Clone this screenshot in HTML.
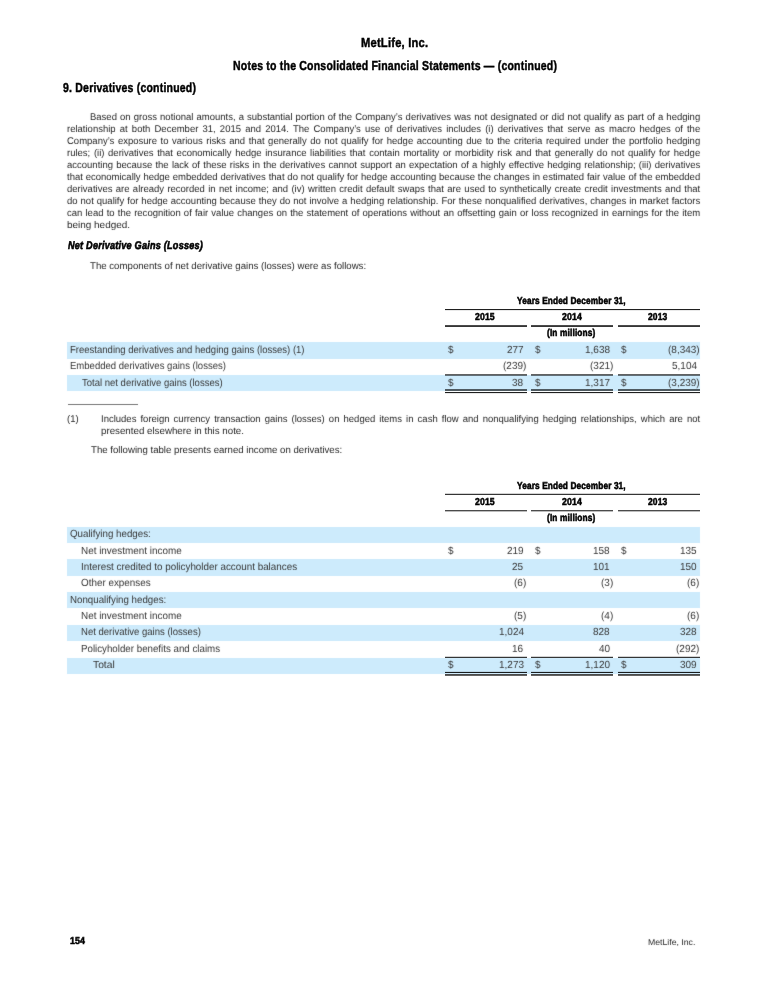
<!DOCTYPE html>
<html><head><meta charset="utf-8"><style>
html,body{margin:0;padding:0;background:#fff;}
body{width:768px;height:993px;position:relative;overflow:hidden;font-family:"Liberation Sans",sans-serif;color:#262626;}
#pg{position:absolute;left:0;top:0;width:768px;height:993px;will-change:transform;filter:url(#soft);}
#hd{position:absolute;left:0;top:0;width:768px;height:993px;will-change:transform;}
.t,.j,.r{position:absolute;}
.t,.j{text-rendering:geometricPrecision;}
.t{white-space:nowrap;transform-origin:0 0;}
.j{text-align:justify;text-align-last:justify;white-space:normal;transform-origin:0 0;}
</style></head><body>
<svg width="0" height="0" style="position:absolute"><filter id="soft" x="0" y="0" width="100%" height="100%" color-interpolation-filters="sRGB"><feConvolveMatrix order="3" kernelMatrix="0.01 0.06 0.01 0.06 0.72 0.06 0.01 0.06 0.01" divisor="1" edgeMode="duplicate"/></filter></svg>
<div id="pg">
<div class="j" style="left:90.40px;top:113.004px;width:629.07px;font-size:9.8px;line-height:9.8px;transform:scaleX(0.9700);">Based on gross notional amounts, a substantial portion of the Company’s derivatives was not designated or did not qualify as part of a hedging</div>
<div class="j" style="left:67.40px;top:125.004px;width:652.78px;font-size:9.8px;line-height:9.8px;transform:scaleX(0.9700);">relationship at both December 31, 2015 and 2014. The Company’s use of derivatives includes (i) derivatives that serve as macro hedges of the</div>
<div class="j" style="left:67.40px;top:137.004px;width:652.78px;font-size:9.8px;line-height:9.8px;transform:scaleX(0.9700);">Company’s exposure to various risks and that generally do not qualify for hedge accounting due to the criteria required under the portfolio hedging</div>
<div class="j" style="left:67.40px;top:149.004px;width:652.78px;font-size:9.8px;line-height:9.8px;transform:scaleX(0.9700);">rules; (ii) derivatives that economically hedge insurance liabilities that contain mortality or morbidity risk and that generally do not qualify for hedge</div>
<div class="j" style="left:67.40px;top:161.004px;width:652.78px;font-size:9.8px;line-height:9.8px;transform:scaleX(0.9700);">accounting because the lack of these risks in the derivatives cannot support an expectation of a highly effective hedging relationship; (iii) derivatives</div>
<div class="j" style="left:67.40px;top:173.004px;width:652.78px;font-size:9.8px;line-height:9.8px;transform:scaleX(0.9700);">that economically hedge embedded derivatives that do not qualify for hedge accounting because the changes in estimated fair value of the embedded</div>
<div class="j" style="left:67.40px;top:185.004px;width:652.78px;font-size:9.8px;line-height:9.8px;transform:scaleX(0.9700);">derivatives are already recorded in net income; and (iv) written credit default swaps that are used to synthetically create credit investments and that</div>
<div class="j" style="left:67.40px;top:197.004px;width:652.78px;font-size:9.8px;line-height:9.8px;transform:scaleX(0.9700);">do not qualify for hedge accounting because they do not involve a hedging relationship. For these nonqualified derivatives, changes in market factors</div>
<div class="j" style="left:67.40px;top:209.004px;width:652.78px;font-size:9.8px;line-height:9.8px;transform:scaleX(0.9700);">can lead to the recognition of fair value changes on the statement of operations without an offsetting gain or loss recognized in earnings for the item</div>
<div class="t" style="left:66.98px;top:221.004px;font-size:9.8px;line-height:9.8px;transform:scaleX(1.0150);">being hedged.</div>
<div class="t" style="left:90.20px;top:262.004px;font-size:9.8px;line-height:9.8px;transform:scaleX(0.9846);">The components of net derivative gains (losses) were as follows:</div>
<div class="r" style="left:67.20px;top:342.30px;width:632.40px;height:16.35px;background:#cdebfc;"></div>
<div class="t" style="left:69.98px;top:346.031px;font-size:10.3px;line-height:10.3px;color:#363636;transform:scaleX(0.9250);">Freestanding derivatives and hedging gains (losses) (1)</div>
<div class="t" style="left:448.20px;top:346.031px;font-size:10.3px;line-height:10.3px;color:#363636;transform:scaleX(0.9700);">$</div>
<div class="t" style="left:506.51px;top:346.031px;font-size:10.3px;line-height:10.3px;color:#363636;transform:scaleX(0.9700);">277</div>
<div class="t" style="left:534.60px;top:346.031px;font-size:10.3px;line-height:10.3px;color:#363636;transform:scaleX(0.9700);">$</div>
<div class="t" style="left:585.15px;top:346.031px;font-size:10.3px;line-height:10.3px;color:#363636;transform:scaleX(0.9700);">1,638</div>
<div class="t" style="left:621.40px;top:346.031px;font-size:10.3px;line-height:10.3px;color:#363636;transform:scaleX(0.9700);">$</div>
<div class="t" style="left:667.76px;top:346.031px;font-size:10.3px;line-height:10.3px;color:#363636;transform:scaleX(0.9700);">(8,343)</div>
<div class="t" style="left:69.97px;top:362.031px;font-size:10.3px;line-height:10.3px;color:#363636;transform:scaleX(0.9269);">Embedded derivatives gains (losses)</div>
<div class="t" style="left:503.49px;top:362.031px;font-size:10.3px;line-height:10.3px;color:#363636;transform:scaleX(0.9700);">(239)</div>
<div class="t" style="left:589.89px;top:362.031px;font-size:10.3px;line-height:10.3px;color:#363636;transform:scaleX(0.9700);">(321)</div>
<div class="t" style="left:671.75px;top:362.031px;font-size:10.3px;line-height:10.3px;color:#363636;transform:scaleX(0.9700);">5,104</div>
<div class="r" style="left:67.20px;top:375.00px;width:632.40px;height:16.35px;background:#cdebfc;"></div>
<div class="t" style="left:82.40px;top:379.031px;font-size:10.3px;line-height:10.3px;color:#363636;transform:scaleX(0.9237);">Total net derivative gains (losses)</div>
<div class="t" style="left:448.20px;top:379.031px;font-size:10.3px;line-height:10.3px;color:#363636;transform:scaleX(0.9700);">$</div>
<div class="t" style="left:512.33px;top:379.031px;font-size:10.3px;line-height:10.3px;color:#363636;transform:scaleX(0.9700);">38</div>
<div class="t" style="left:534.60px;top:379.031px;font-size:10.3px;line-height:10.3px;color:#363636;transform:scaleX(0.9700);">$</div>
<div class="t" style="left:585.15px;top:379.031px;font-size:10.3px;line-height:10.3px;color:#363636;transform:scaleX(0.9700);">1,317</div>
<div class="t" style="left:621.40px;top:379.031px;font-size:10.3px;line-height:10.3px;color:#363636;transform:scaleX(0.9700);">$</div>
<div class="t" style="left:667.76px;top:379.031px;font-size:10.3px;line-height:10.3px;color:#363636;transform:scaleX(0.9700);">(3,239)</div>
<div class="r" style="left:67.80px;top:404.00px;width:70.10px;height:0.80px;background:#777;"></div>
<div class="t" style="left:66.93px;top:415.004px;font-size:9.8px;line-height:9.8px;transform:scaleX(0.9700);">(1)</div>
<div class="j" style="left:101.40px;top:415.004px;width:617.73px;font-size:9.8px;line-height:9.8px;transform:scaleX(0.9700);">Includes foreign currency transaction gains (losses) on hedged items in cash flow and nonqualifying hedging relationships, which are not</div>
<div class="t" style="left:101.01px;top:427.004px;font-size:9.8px;line-height:9.8px;transform:scaleX(0.9944);">presented elsewhere in this note.</div>
<div class="t" style="left:91.10px;top:446.004px;font-size:9.8px;line-height:9.8px;transform:scaleX(0.9835);">The following table presents earned income on derivatives:</div>
<div class="r" style="left:67.20px;top:526.80px;width:632.40px;height:16.34px;background:#cdebfc;"></div>
<div class="t" style="left:69.55px;top:530.031px;font-size:10.3px;line-height:10.3px;color:#363636;transform:scaleX(0.9470);">Qualifying hedges:</div>
<div class="t" style="left:80.84px;top:547.031px;font-size:10.3px;line-height:10.3px;color:#363636;transform:scaleX(0.9612);">Net investment income</div>
<div class="t" style="left:448.20px;top:547.031px;font-size:10.3px;line-height:10.3px;color:#363636;transform:scaleX(0.9700);">$</div>
<div class="t" style="left:506.51px;top:547.031px;font-size:10.3px;line-height:10.3px;color:#363636;transform:scaleX(0.9700);">219</div>
<div class="t" style="left:534.60px;top:547.031px;font-size:10.3px;line-height:10.3px;color:#363636;transform:scaleX(0.9700);">$</div>
<div class="t" style="left:592.91px;top:547.031px;font-size:10.3px;line-height:10.3px;color:#363636;transform:scaleX(0.9700);">158</div>
<div class="t" style="left:621.40px;top:547.031px;font-size:10.3px;line-height:10.3px;color:#363636;transform:scaleX(0.9700);">$</div>
<div class="t" style="left:679.51px;top:547.031px;font-size:10.3px;line-height:10.3px;color:#363636;transform:scaleX(0.9700);">135</div>
<div class="r" style="left:67.20px;top:559.48px;width:632.40px;height:16.34px;background:#cdebfc;"></div>
<div class="t" style="left:80.84px;top:563.031px;font-size:10.3px;line-height:10.3px;color:#363636;transform:scaleX(0.9556);">Interest credited to policyholder account balances</div>
<div class="t" style="left:512.33px;top:563.031px;font-size:10.3px;line-height:10.3px;color:#363636;transform:scaleX(0.9700);">25</div>
<div class="t" style="left:592.91px;top:563.031px;font-size:10.3px;line-height:10.3px;color:#363636;transform:scaleX(0.9700);">101</div>
<div class="t" style="left:679.51px;top:563.031px;font-size:10.3px;line-height:10.3px;color:#363636;transform:scaleX(0.9700);">150</div>
<div class="t" style="left:80.84px;top:579.031px;font-size:10.3px;line-height:10.3px;color:#363636;transform:scaleX(0.9577);">Other expenses</div>
<div class="t" style="left:514.16px;top:579.031px;font-size:10.3px;line-height:10.3px;color:#363636;transform:scaleX(0.9700);">(6)</div>
<div class="t" style="left:600.56px;top:579.031px;font-size:10.3px;line-height:10.3px;color:#363636;transform:scaleX(0.9700);">(3)</div>
<div class="t" style="left:687.16px;top:579.031px;font-size:10.3px;line-height:10.3px;color:#363636;transform:scaleX(0.9700);">(6)</div>
<div class="r" style="left:67.20px;top:592.16px;width:632.40px;height:16.34px;background:#cdebfc;"></div>
<div class="t" style="left:69.56px;top:596.031px;font-size:10.3px;line-height:10.3px;color:#363636;transform:scaleX(0.9440);">Nonqualifying hedges:</div>
<div class="t" style="left:80.84px;top:612.031px;font-size:10.3px;line-height:10.3px;color:#363636;transform:scaleX(0.9612);">Net investment income</div>
<div class="t" style="left:514.16px;top:612.031px;font-size:10.3px;line-height:10.3px;color:#363636;transform:scaleX(0.9700);">(5)</div>
<div class="t" style="left:600.56px;top:612.031px;font-size:10.3px;line-height:10.3px;color:#363636;transform:scaleX(0.9700);">(4)</div>
<div class="t" style="left:687.16px;top:612.031px;font-size:10.3px;line-height:10.3px;color:#363636;transform:scaleX(0.9700);">(6)</div>
<div class="r" style="left:67.20px;top:624.84px;width:632.40px;height:16.34px;background:#cdebfc;"></div>
<div class="t" style="left:80.87px;top:628.031px;font-size:10.3px;line-height:10.3px;color:#363636;transform:scaleX(0.9266);">Net derivative gains (losses)</div>
<div class="t" style="left:498.75px;top:628.031px;font-size:10.3px;line-height:10.3px;color:#363636;transform:scaleX(0.9700);">1,024</div>
<div class="t" style="left:592.91px;top:628.031px;font-size:10.3px;line-height:10.3px;color:#363636;transform:scaleX(0.9700);">828</div>
<div class="t" style="left:679.51px;top:628.031px;font-size:10.3px;line-height:10.3px;color:#363636;transform:scaleX(0.9700);">328</div>
<div class="t" style="left:80.85px;top:645.031px;font-size:10.3px;line-height:10.3px;color:#363636;transform:scaleX(0.9452);">Policyholder benefits and claims</div>
<div class="t" style="left:512.33px;top:645.031px;font-size:10.3px;line-height:10.3px;color:#363636;transform:scaleX(0.9700);">16</div>
<div class="t" style="left:598.73px;top:645.031px;font-size:10.3px;line-height:10.3px;color:#363636;transform:scaleX(0.9700);">40</div>
<div class="t" style="left:676.49px;top:645.031px;font-size:10.3px;line-height:10.3px;color:#363636;transform:scaleX(0.9700);">(292)</div>
<div class="r" style="left:67.20px;top:657.52px;width:632.40px;height:16.34px;background:#cdebfc;"></div>
<div class="t" style="left:93.00px;top:661.031px;font-size:10.3px;line-height:10.3px;color:#363636;">Total</div>
<div class="t" style="left:448.20px;top:661.031px;font-size:10.3px;line-height:10.3px;color:#363636;transform:scaleX(0.9700);">$</div>
<div class="t" style="left:498.75px;top:661.031px;font-size:10.3px;line-height:10.3px;color:#363636;transform:scaleX(0.9700);">1,273</div>
<div class="t" style="left:534.60px;top:661.031px;font-size:10.3px;line-height:10.3px;color:#363636;transform:scaleX(0.9700);">$</div>
<div class="t" style="left:585.15px;top:661.031px;font-size:10.3px;line-height:10.3px;color:#363636;transform:scaleX(0.9700);">1,120</div>
<div class="t" style="left:621.40px;top:661.031px;font-size:10.3px;line-height:10.3px;color:#363636;transform:scaleX(0.9700);">$</div>
<div class="t" style="left:679.51px;top:661.031px;font-size:10.3px;line-height:10.3px;color:#363636;transform:scaleX(0.9700);">309</div>
<div class="t" style="left:647.96px;top:938.039px;font-size:8.4px;line-height:8.4px;transform:scaleX(1.0386);">MetLife, Inc.</div>
</div>
<div id="hd">
<div class="t" style="left:361.34px;top:36.045px;font-size:13.0px;line-height:13.0px;font-weight:bold;color:#000;-webkit-text-stroke:0.45px #000;letter-spacing:0.25px;transform:scaleX(0.8584);">MetLife, Inc.</div>
<div class="t" style="left:233.09px;top:59.045px;font-size:13.0px;line-height:13.0px;font-weight:bold;color:#000;-webkit-text-stroke:0.45px #000;letter-spacing:0.25px;transform:scaleX(0.8090);">Notes to the Consolidated Financial Statements — (continued)</div>
<div class="t" style="left:63.00px;top:81.046px;font-size:13.0px;line-height:13.0px;font-weight:bold;color:#000;-webkit-text-stroke:0.45px #000;letter-spacing:0.25px;transform:scaleX(0.8085);">9. Derivatives (continued)</div>
<div class="t" style="left:68.40px;top:241.019px;font-size:11.2px;line-height:11.2px;font-weight:bold;font-style:italic;color:#000;-webkit-text-stroke:0.6px #000;letter-spacing:0.25px;transform:scaleX(0.8176);">Net Derivative Gains (Losses)</div>
<div class="t" style="left:517.20px;top:297.035px;font-size:10.0px;line-height:10.0px;font-weight:bold;color:#000;-webkit-text-stroke:0.55px #000;letter-spacing:0.15px;transform:scaleX(0.8275);">Years Ended December 31,</div>
<div class="r" style="left:445.00px;top:309.00px;width:254.60px;height:1.00px;background:rgba(0,0,0,0.880);"></div>
<div class="r" style="left:445.00px;top:310.00px;width:254.60px;height:1.00px;background:rgba(0,0,0,0.088);"></div>
<div class="t" style="left:475.00px;top:313.035px;font-size:10.0px;line-height:10.0px;font-weight:bold;color:#000;-webkit-text-stroke:0.55px #000;letter-spacing:0.15px;transform:scaleX(0.8652);">2015</div>
<div class="r" style="left:445.00px;top:325.00px;width:81.60px;height:1.00px;background:rgba(0,0,0,0.704);"></div>
<div class="r" style="left:445.00px;top:326.00px;width:81.60px;height:1.00px;background:rgba(0,0,0,0.792);"></div>
<div class="t" style="left:561.60px;top:313.035px;font-size:10.0px;line-height:10.0px;font-weight:bold;color:#000;-webkit-text-stroke:0.55px #000;letter-spacing:0.15px;transform:scaleX(0.8696);">2014</div>
<div class="r" style="left:531.40px;top:325.00px;width:81.60px;height:1.00px;background:rgba(0,0,0,0.704);"></div>
<div class="r" style="left:531.40px;top:326.00px;width:81.60px;height:1.00px;background:rgba(0,0,0,0.792);"></div>
<div class="t" style="left:648.30px;top:313.035px;font-size:10.0px;line-height:10.0px;font-weight:bold;color:#000;-webkit-text-stroke:0.55px #000;letter-spacing:0.15px;transform:scaleX(0.8478);">2013</div>
<div class="r" style="left:618.20px;top:325.00px;width:81.40px;height:1.00px;background:rgba(0,0,0,0.704);"></div>
<div class="r" style="left:618.20px;top:326.00px;width:81.40px;height:1.00px;background:rgba(0,0,0,0.792);"></div>
<div class="t" style="left:547.40px;top:329.035px;font-size:10.0px;line-height:10.0px;font-weight:bold;color:#000;-webkit-text-stroke:0.55px #000;letter-spacing:0.15px;transform:scaleX(0.8345);">(In millions)</div>
<div class="r" style="left:445.00px;top:374.00px;width:81.60px;height:1.00px;background:rgba(0,0,0,0.616);"></div>
<div class="r" style="left:445.00px;top:375.00px;width:81.60px;height:1.00px;background:rgba(0,0,0,0.528);"></div>
<div class="r" style="left:445.00px;top:389.00px;width:81.60px;height:1.00px;background:rgba(0,0,0,0.616);"></div>
<div class="r" style="left:445.00px;top:390.00px;width:81.60px;height:1.00px;background:rgba(0,0,0,0.616);"></div>
<div class="r" style="left:445.00px;top:392.00px;width:81.60px;height:1.00px;background:rgba(0,0,0,0.880);"></div>
<div class="r" style="left:445.00px;top:393.00px;width:81.60px;height:1.00px;background:rgba(0,0,0,0.088);"></div>
<div class="r" style="left:531.40px;top:374.00px;width:81.60px;height:1.00px;background:rgba(0,0,0,0.616);"></div>
<div class="r" style="left:531.40px;top:375.00px;width:81.60px;height:1.00px;background:rgba(0,0,0,0.528);"></div>
<div class="r" style="left:531.40px;top:389.00px;width:81.60px;height:1.00px;background:rgba(0,0,0,0.616);"></div>
<div class="r" style="left:531.40px;top:390.00px;width:81.60px;height:1.00px;background:rgba(0,0,0,0.616);"></div>
<div class="r" style="left:531.40px;top:392.00px;width:81.60px;height:1.00px;background:rgba(0,0,0,0.880);"></div>
<div class="r" style="left:531.40px;top:393.00px;width:81.60px;height:1.00px;background:rgba(0,0,0,0.088);"></div>
<div class="r" style="left:618.20px;top:374.00px;width:81.40px;height:1.00px;background:rgba(0,0,0,0.616);"></div>
<div class="r" style="left:618.20px;top:375.00px;width:81.40px;height:1.00px;background:rgba(0,0,0,0.528);"></div>
<div class="r" style="left:618.20px;top:389.00px;width:81.40px;height:1.00px;background:rgba(0,0,0,0.616);"></div>
<div class="r" style="left:618.20px;top:390.00px;width:81.40px;height:1.00px;background:rgba(0,0,0,0.616);"></div>
<div class="r" style="left:618.20px;top:392.00px;width:81.40px;height:1.00px;background:rgba(0,0,0,0.880);"></div>
<div class="r" style="left:618.20px;top:393.00px;width:81.40px;height:1.00px;background:rgba(0,0,0,0.088);"></div>
<div class="t" style="left:517.20px;top:482.035px;font-size:10.0px;line-height:10.0px;font-weight:bold;color:#000;-webkit-text-stroke:0.55px #000;letter-spacing:0.15px;transform:scaleX(0.8275);">Years Ended December 31,</div>
<div class="r" style="left:445.00px;top:493.00px;width:254.60px;height:1.00px;background:rgba(0,0,0,0.176);"></div>
<div class="r" style="left:445.00px;top:494.00px;width:254.60px;height:1.00px;background:rgba(0,0,0,0.792);"></div>
<div class="t" style="left:475.00px;top:498.035px;font-size:10.0px;line-height:10.0px;font-weight:bold;color:#000;-webkit-text-stroke:0.55px #000;letter-spacing:0.15px;transform:scaleX(0.8652);">2015</div>
<div class="r" style="left:445.00px;top:510.00px;width:81.60px;height:1.00px;background:rgba(0,0,0,0.704);"></div>
<div class="r" style="left:445.00px;top:511.00px;width:81.60px;height:1.00px;background:rgba(0,0,0,0.264);"></div>
<div class="t" style="left:561.60px;top:498.035px;font-size:10.0px;line-height:10.0px;font-weight:bold;color:#000;-webkit-text-stroke:0.55px #000;letter-spacing:0.15px;transform:scaleX(0.8696);">2014</div>
<div class="r" style="left:531.40px;top:510.00px;width:81.60px;height:1.00px;background:rgba(0,0,0,0.704);"></div>
<div class="r" style="left:531.40px;top:511.00px;width:81.60px;height:1.00px;background:rgba(0,0,0,0.264);"></div>
<div class="t" style="left:648.30px;top:498.035px;font-size:10.0px;line-height:10.0px;font-weight:bold;color:#000;-webkit-text-stroke:0.55px #000;letter-spacing:0.15px;transform:scaleX(0.8478);">2013</div>
<div class="r" style="left:618.20px;top:510.00px;width:81.40px;height:1.00px;background:rgba(0,0,0,0.704);"></div>
<div class="r" style="left:618.20px;top:511.00px;width:81.40px;height:1.00px;background:rgba(0,0,0,0.264);"></div>
<div class="t" style="left:547.40px;top:514.035px;font-size:10.0px;line-height:10.0px;font-weight:bold;color:#000;-webkit-text-stroke:0.55px #000;letter-spacing:0.15px;transform:scaleX(0.8345);">(In millions)</div>
<div class="r" style="left:445.00px;top:656.00px;width:81.60px;height:1.00px;background:rgba(0,0,0,0.176);"></div>
<div class="r" style="left:445.00px;top:657.00px;width:81.60px;height:1.00px;background:rgba(0,0,0,0.792);"></div>
<div class="r" style="left:445.00px;top:671.00px;width:81.60px;height:1.00px;background:rgba(0,0,0,0.088);"></div>
<div class="r" style="left:445.00px;top:672.00px;width:81.60px;height:1.00px;background:rgba(0,0,0,0.880);"></div>
<div class="r" style="left:445.00px;top:674.00px;width:81.60px;height:1.00px;background:rgba(0,0,0,0.704);"></div>
<div class="r" style="left:445.00px;top:675.00px;width:81.60px;height:1.00px;background:rgba(0,0,0,0.616);"></div>
<div class="r" style="left:531.40px;top:656.00px;width:81.60px;height:1.00px;background:rgba(0,0,0,0.176);"></div>
<div class="r" style="left:531.40px;top:657.00px;width:81.60px;height:1.00px;background:rgba(0,0,0,0.792);"></div>
<div class="r" style="left:531.40px;top:671.00px;width:81.60px;height:1.00px;background:rgba(0,0,0,0.088);"></div>
<div class="r" style="left:531.40px;top:672.00px;width:81.60px;height:1.00px;background:rgba(0,0,0,0.880);"></div>
<div class="r" style="left:531.40px;top:674.00px;width:81.60px;height:1.00px;background:rgba(0,0,0,0.704);"></div>
<div class="r" style="left:531.40px;top:675.00px;width:81.60px;height:1.00px;background:rgba(0,0,0,0.616);"></div>
<div class="r" style="left:618.20px;top:656.00px;width:81.40px;height:1.00px;background:rgba(0,0,0,0.176);"></div>
<div class="r" style="left:618.20px;top:657.00px;width:81.40px;height:1.00px;background:rgba(0,0,0,0.792);"></div>
<div class="r" style="left:618.20px;top:671.00px;width:81.40px;height:1.00px;background:rgba(0,0,0,0.088);"></div>
<div class="r" style="left:618.20px;top:672.00px;width:81.40px;height:1.00px;background:rgba(0,0,0,0.880);"></div>
<div class="r" style="left:618.20px;top:674.00px;width:81.40px;height:1.00px;background:rgba(0,0,0,0.704);"></div>
<div class="r" style="left:618.20px;top:675.00px;width:81.40px;height:1.00px;background:rgba(0,0,0,0.616);"></div>
<div class="t" style="left:70.30px;top:937.035px;font-size:10.0px;line-height:10.0px;font-weight:bold;color:#000;-webkit-text-stroke:0.55px #000;letter-spacing:0.15px;transform:scaleX(0.8824);">154</div>
</div>
</body></html>
